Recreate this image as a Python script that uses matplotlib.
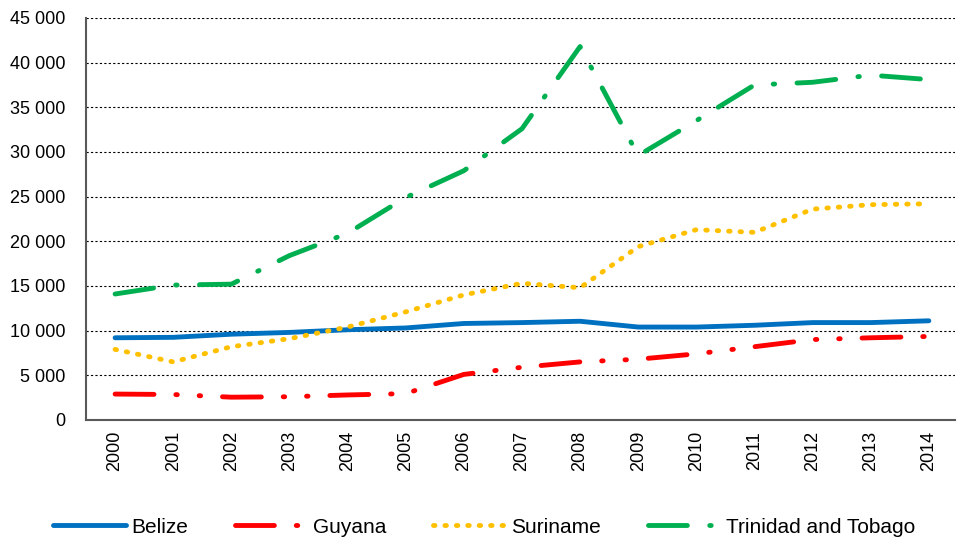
import matplotlib.pyplot as plt
from matplotlib.ticker import FuncFormatter

plt.rcParams['font.family'] = ['Liberation Sans', 'DejaVu Sans']

years = [str(y) for y in range(2000, 2015)]

belize = [9200, 9250, 9600, 9800, 10100, 10300, 10800, 10900, 11050,
          10400, 10400, 10600, 10900, 10900, 11100]
guyana = [2900, 2850, 2550, 2600, 2800, 2950, 5100, 5900, 6500,
          6800, 7400, 8200, 9000, 9200, 9350]
suriname = [7900, 6500, 8200, 9100, 10400, 12100, 14000, 15300, 14800,
            19400, 21300, 21000, 23600, 24100, 24200]
trinidad = [14100, 15100, 15200, 18400, 20900, 24900, 27900, 32600, 41800,
            29600, 33500, 37500, 37800, 38600, 38100]

fig = plt.figure(figsize=(9.57, 5.44), dpi=100)
ax = fig.add_axes([0.0899, 0.228, 0.908, 0.739])

lw = 3.5
x = range(len(years))
ax.plot(x, belize, color='#0070C0', lw=lw, solid_capstyle='round',
        label='Belize')
ax.plot(x, guyana, color='#FF0000', lw=lw, dash_capstyle='round',
        linestyle=(0, (8, 4.5, 0.3, 4.5, 0.3, 4.5)), label='Guyana')
ax.plot(x, suriname, color='#FFC000', lw=lw, dash_capstyle='round',
        linestyle=(0, (0.3, 2.05)), label='Suriname')
ax.plot(x, trinidad, color='#00B050', lw=lw, dash_capstyle='round',
        linestyle=(0, (8, 4.6, 0.3, 4.6)), label='Trinidad and Tobago')

ax.set_xlim(-0.5, len(years) - 0.55)
ax.set_ylim(0, 45000)
ax.set_yticks(range(0, 45001, 5000))
ax.yaxis.set_major_formatter(FuncFormatter(lambda v, p: f'{int(v):,}'.replace(',', ' ')))
ax.set_xticks(list(x))
ax.set_xticklabels(years, rotation=90)
ax.tick_params(length=0, labelsize=13, colors='black', pad=8)
ax.tick_params(axis='y', pad=15)

ax.grid(axis='y', color='black', linestyle=(0, (2, 2)), lw=0.8)
ax.set_axisbelow(True)
for s in ['top', 'right']:
    ax.spines[s].set_visible(False)
for s in ['left', 'bottom']:
    ax.spines[s].set_color('#595959')
    ax.spines[s].set_linewidth(1.5)

fig.legend(loc='center', ncol=4, frameon=False, fontsize=15,
           bbox_to_anchor=(0.506, 0.031), handlelength=3.5, columnspacing=2.25,
           handletextpad=0.25, borderpad=0)

fig.savefig('out.png', dpi=100)
